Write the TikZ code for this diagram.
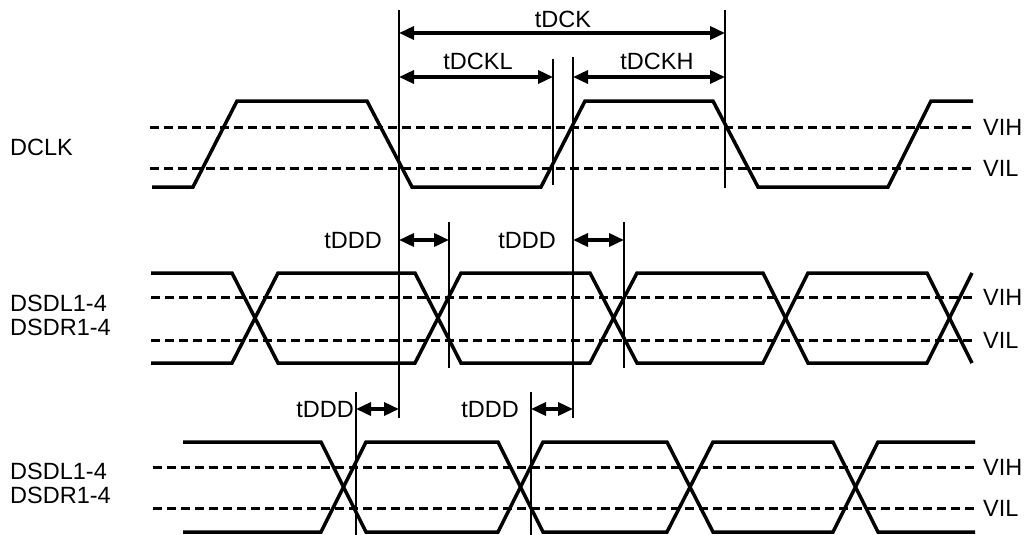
\documentclass[tikz,border=0pt]{standalone}
\usepackage{fontspec}
\setmainfont{Liberation Sans}
\usetikzlibrary{arrows.meta}
\begin{document}
\begin{tikzpicture}[x=1pt,y=-1pt,
  wave/.style={line width=3.5pt,line join=miter},
  refline/.style={line width=3pt,dash pattern=on 9pt off 5pt},
  marker/.style={line width=1.5pt},
  dimarrow/.style={line width=3.5pt,{Triangle[length=15pt,width=13pt]}-{Triangle[length=15pt,width=13pt]}},
  lbl/.style={font=\fontsize{23.5}{23.5}\selectfont,inner sep=0pt},
]
\useasboundingbox (0,0) rectangle (1028,535);

% ---------- reference levels ----------
\draw[refline] (150,127) -- (975,127);
\draw[refline] (150,168) -- (975,168);
\draw[refline] (151,297) -- (975,297);
\draw[refline] (151,340) -- (975,340);
\draw[refline] (153,467) -- (975,467);
\draw[refline] (153,508) -- (975,508);

% ---------- DCLK ----------
\draw[wave] (152,187) -- (193,187) -- (237,101) -- (367,101) -- (412,187) -- (541,187) -- (585,101) -- (713,101) -- (758,187) -- (888,187) -- (931,101) -- (973,101);

% ---------- DSDL/DSDR (middle) ----------
\draw[wave] (151,273) -- (232,273) -- (278,363) -- (415,363) -- (461,273) -- (590,273) -- (637,363) -- (763,363) -- (808,273) -- (927,273) -- (972,363);
\draw[wave] (151,363) -- (232,363) -- (278,273) -- (415,273) -- (461,363) -- (590,363) -- (637,273) -- (763,273) -- (808,363) -- (927,363) -- (972,273);

% ---------- DSDL/DSDR (bottom) ----------
\draw[wave] (183,442) -- (321,442) -- (366,532) -- (498,532) -- (543,442) -- (667,442) -- (713,532) -- (833,532) -- (878,442) -- (975,442);
\draw[wave] (183,532) -- (321,532) -- (366,442) -- (498,442) -- (543,532) -- (667,532) -- (713,442) -- (833,442) -- (878,532) -- (975,532);

% ---------- vertical markers ----------
\coordinate (m1t) at (399,10);  \coordinate (m1b) at (399,418);
\coordinate (m2t) at (573,57);  \coordinate (m2b) at (573,418);
\coordinate (m3t) at (553,59);  \coordinate (m3b) at (553,185);
\coordinate (m4t) at (725,10);  \coordinate (m4b) at (725,188);
\coordinate (m5t) at (449,222); \coordinate (m5b) at (449,368);
\coordinate (m6t) at (624,222); \coordinate (m6b) at (624,368);
\coordinate (m7t) at (356,392); \coordinate (m7b) at (356,535);
\coordinate (m8t) at (531,392); \coordinate (m8b) at (531,535);
\foreach \m in {m1,m2,m3,m4,m5,m6,m7,m8} \draw[marker] (\m t) -- (\m b);

% ---------- dimension arrows ----------
\coordinate (dck1) at (399,33);  \coordinate (dck2) at (725,33);
\coordinate (dckl1) at (399,77); \coordinate (dckl2) at (553,77);
\coordinate (dckh1) at (573,77); \coordinate (dckh2) at (725,77);
\coordinate (ddd1a) at (399,240); \coordinate (ddd1b) at (449,240);
\coordinate (ddd2a) at (573,240); \coordinate (ddd2b) at (624,240);
\coordinate (ddd3a) at (356,409); \coordinate (ddd3b) at (399,409);
\coordinate (ddd4a) at (531,409); \coordinate (ddd4b) at (573,409);
\draw[dimarrow] (dck1) -- (dck2);
\draw[dimarrow] (dckl1) -- (dckl2);
\draw[dimarrow] (dckh1) -- (dckh2);
\draw[dimarrow] (ddd1a) -- (ddd1b);
\draw[dimarrow] (ddd2a) -- (ddd2b);
\draw[dimarrow] (ddd3a) -- (ddd3b);
\draw[dimarrow] (ddd4a) -- (ddd4b);

% ---------- timing labels ----------
\node[lbl,anchor=base] (tdck) at (563,28) {tDCK};
\node[lbl,anchor=base] (tdckl) at (478,70) {tDCKL};
\node[lbl,anchor=base] (tdckh) at (657,70) {tDCKH};
\node[lbl,anchor=base] (tddd1) at (353,248) {tDDD};
\node[lbl,anchor=base] (tddd2) at (527,248) {tDDD};
\node[lbl,anchor=base east] (tddd3) at (354,417) {tDDD};
\node[lbl,anchor=base] (tddd4) at (490,417) {tDDD};

% ---------- level labels ----------
\node[lbl,anchor=base west] (vih1) at (983,135) {VIH};
\node[lbl,anchor=base west] (vil1) at (983,176) {VIL};
\node[lbl,anchor=base west] (vih2) at (983,305) {VIH};
\node[lbl,anchor=base west] (vil2) at (983,348) {VIL};
\node[lbl,anchor=base west] (vih3) at (983,475) {VIH};
\node[lbl,anchor=base west] (vil3) at (983,516) {VIL};

% ---------- signal names ----------
\node[lbl,anchor=base west] (dclk) at (10,155) {DCLK};
\node[lbl,anchor=base west] (s2a) at (10,311) {DSDL1-4};
\node[lbl,anchor=base west] (s2b) at (10,335) {DSDR1-4};
\node[lbl,anchor=base west] (s3a) at (10,479) {DSDL1-4};
\node[lbl,anchor=base west] (s3b) at (10,503) {DSDR1-4};
\end{tikzpicture}
\end{document}
